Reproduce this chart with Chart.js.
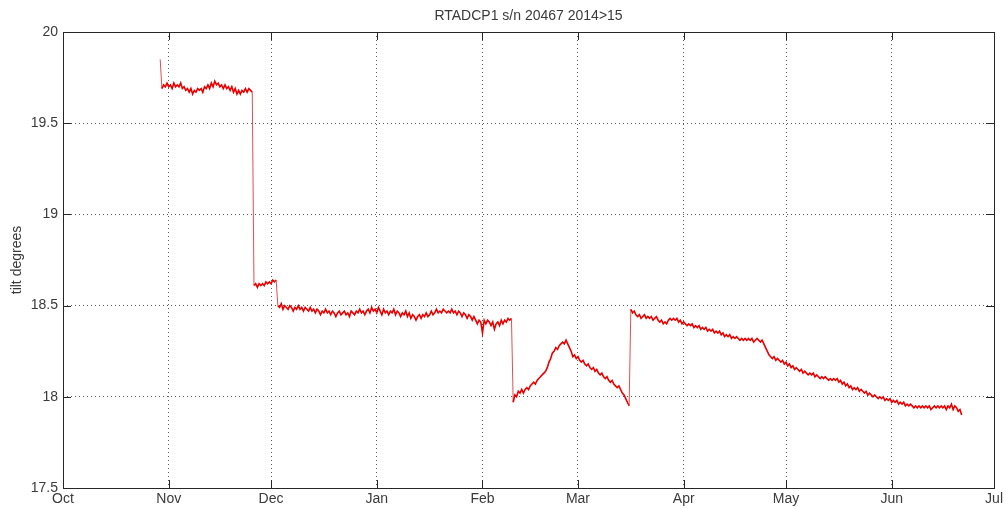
<!DOCTYPE html>
<html>
<head>
<meta charset="utf-8">
<script src="https://cdn.jsdelivr.net/npm/chart.js@4.4.1/dist/chart.umd.min.js"></script>
<style>
  html, body { margin: 0; padding: 0; background: #ffffff; }
  canvas { display: block; }
</style>
</head>
<body>
<canvas id="c" width="1006" height="509"></canvas>
<script>
// ---- Data ----
const chartTitle = 'RTADCP1 s/n 20467 2014>15';
const yAxisTitle = 'tilt degrees';
const monthLabels = ['Oct', 'Nov', 'Dec', 'Jan', 'Feb', 'Mar', 'Apr', 'May', 'Jun', 'Jul'];
const monthStartDays = [0, 31, 61, 92, 123, 151, 182, 212, 243, 273]; // days since 1 Oct 2014
const yTickValues = [17.5, 18, 18.5, 19, 19.5, 20];

// tilt samples every half day starting 28.5 days after 1 Oct 2014
const sampleStartDay = 28.5;
const sampleStepDays = 0.5;
const tilt = [
  // late Oct - late Nov
  19.85, 19.69, 19.71, 19.70, 19.72, 19.70, 19.71, 19.69, 19.72, 19.70,
  19.71, 19.70, 19.72, 19.69, 19.70, 19.68, 19.69, 19.67, 19.69, 19.66,
  19.68, 19.67, 19.69, 19.68, 19.69, 19.67, 19.70, 19.69, 19.71, 19.69,
  19.72, 19.70, 19.73, 19.71, 19.72, 19.70, 19.71, 19.69, 19.71, 19.69,
  19.70, 19.68, 19.70, 19.67, 19.69, 19.66, 19.68, 19.66, 19.68, 19.67,
  19.69, 19.67, 19.69, 19.68, 19.67,
  // late Nov - early Dec
  18.61, 18.62, 18.60, 18.62, 18.61, 18.62, 18.61, 18.63, 18.62, 18.63,
  18.62, 18.64, 18.63, 18.64,
  // Dec - Feb
  18.50, 18.49, 18.51, 18.48, 18.50, 18.49, 18.48, 18.50, 18.49, 18.47,
  18.49, 18.48, 18.50, 18.48, 18.49, 18.47, 18.49, 18.48, 18.47, 18.49,
  18.47, 18.48, 18.46, 18.48, 18.47, 18.45, 18.47, 18.46, 18.48, 18.46,
  18.47, 18.45, 18.47, 18.46, 18.44, 18.46, 18.47, 18.45, 18.46, 18.47,
  18.45, 18.46, 18.44, 18.47, 18.46, 18.45, 18.47, 18.46, 18.48, 18.46,
  18.47, 18.45, 18.47, 18.48, 18.46, 18.49, 18.47, 18.48, 18.46, 18.49,
  18.47, 18.45, 18.48, 18.46, 18.47, 18.45, 18.47, 18.46, 18.48, 18.45,
  18.47, 18.46, 18.44, 18.46, 18.45, 18.47, 18.44, 18.46, 18.43, 18.45,
  18.44, 18.42, 18.44, 18.45, 18.43, 18.45, 18.44, 18.46, 18.44, 18.45,
  18.47, 18.45, 18.46, 18.48, 18.46, 18.47, 18.46, 18.48, 18.47, 18.46,
  18.47, 18.46, 18.48, 18.46, 18.47, 18.45, 18.47, 18.46, 18.44, 18.46,
  18.45, 18.43, 18.45, 18.44, 18.42, 18.44, 18.42, 18.40, 18.42, 18.41,
  18.35, 18.42, 18.40, 18.42, 18.41, 18.39, 18.41, 18.37, 18.40, 18.41,
  18.39, 18.42, 18.40, 18.42, 18.41, 18.43, 18.42, 18.43,
  // Feb - mid Mar
  17.97, 18.01, 18.00, 18.03, 18.02, 18.04, 18.02, 18.04, 18.05, 18.04,
  18.06, 18.07, 18.08, 18.07, 18.09, 18.10, 18.11, 18.12, 18.13, 18.14,
  18.16, 18.19, 18.21, 18.24, 18.25, 18.27, 18.26, 18.28, 18.29, 18.30,
  18.29, 18.31, 18.29, 18.27, 18.25, 18.22, 18.23, 18.21, 18.22, 18.20,
  18.19, 18.20, 18.18, 18.17, 18.18, 18.16, 18.15, 18.16, 18.14, 18.15,
  18.13, 18.12, 18.13, 18.11, 18.10, 18.11, 18.09, 18.08, 18.09, 18.07,
  18.06, 18.05, 18.06, 18.04, 18.02, 18.01, 17.99, 17.97, 17.95,
  // mid Mar - late Jun
  18.48, 18.46, 18.47, 18.45, 18.44, 18.45, 18.43, 18.44, 18.45, 18.43,
  18.44, 18.43, 18.44, 18.42, 18.43, 18.44, 18.42, 18.41, 18.42, 18.40,
  18.41, 18.40, 18.42, 18.43, 18.42, 18.43, 18.42, 18.43, 18.41, 18.42,
  18.40, 18.41, 18.40, 18.39, 18.40, 18.39, 18.40, 18.38, 18.39, 18.38,
  18.39, 18.37, 18.38, 18.37, 18.38, 18.36, 18.37, 18.36, 18.37, 18.35,
  18.36, 18.35, 18.36, 18.34, 18.35, 18.33, 18.34, 18.33, 18.34, 18.32,
  18.33, 18.32, 18.33, 18.32, 18.31, 18.32, 18.31, 18.32, 18.31, 18.32,
  18.31, 18.32, 18.30, 18.31, 18.32, 18.31, 18.30, 18.31, 18.29, 18.27,
  18.25, 18.23, 18.22, 18.21, 18.22, 18.20, 18.21, 18.20, 18.19, 18.20,
  18.18, 18.19, 18.17, 18.18, 18.16, 18.17, 18.15, 18.16, 18.15, 18.14,
  18.15, 18.13, 18.14, 18.13, 18.12, 18.13, 18.12, 18.13, 18.11, 18.12,
  18.11, 18.10, 18.11, 18.10, 18.11, 18.10, 18.09, 18.10, 18.09, 18.10,
  18.09, 18.10, 18.08, 18.09, 18.07, 18.08, 18.06, 18.07, 18.05, 18.06,
  18.04, 18.05, 18.04, 18.05, 18.03, 18.04, 18.03, 18.02, 18.03, 18.01,
  18.02, 18.01, 18.00, 18.01, 18.00, 17.99, 18.00, 17.99, 18.00, 17.98,
  17.99, 17.98, 17.99, 17.97, 17.98, 17.97, 17.98, 17.96, 17.97, 17.96,
  17.97, 17.95, 17.96, 17.95, 17.96, 17.95, 17.94, 17.95, 17.94, 17.95,
  17.94, 17.95, 17.94, 17.95, 17.94, 17.95, 17.93, 17.94, 17.95, 17.94,
  17.95, 17.94, 17.95, 17.94, 17.95, 17.93, 17.95, 17.94, 17.96, 17.93,
  17.95, 17.94, 17.92, 17.93, 17.90
];

// ---- Build chart ----
const points = tilt.map((v, i) => ({ x: sampleStartDay + i * sampleStepDays, y: v }));
const FONT = "'Liberation Sans', Arial, Helvetica, sans-serif";
const TEXT_COLOR = '#3a3a3a';
const AXIS_COLOR = '#262626';
const GRID_COLOR = '#5a5a5a';
const TICK_LEN = 8;
const isJump = ctx => Math.abs(ctx.p1.parsed.y - ctx.p0.parsed.y) > 0.12;

const matlabBox = {
  id: 'matlabBox',
  afterDraw(chart) {
    const { ctx, chartArea: a, scales } = chart;
    ctx.save();
    ctx.strokeStyle = AXIS_COLOR;
    ctx.lineWidth = 1;
    ctx.setLineDash([]);
    ctx.beginPath();
    scales.x.ticks.forEach(t => {
      const px = Math.round(scales.x.getPixelForValue(t.value)) + 0.5;
      ctx.moveTo(px, a.bottom); ctx.lineTo(px, a.bottom - TICK_LEN);
      ctx.moveTo(px, a.top); ctx.lineTo(px, a.top + TICK_LEN);
    });
    scales.y.ticks.forEach(t => {
      const py = Math.round(scales.y.getPixelForValue(t.value)) + 0.5;
      ctx.moveTo(a.left, py); ctx.lineTo(a.left + TICK_LEN, py);
      ctx.moveTo(a.right, py); ctx.lineTo(a.right - TICK_LEN, py);
    });
    ctx.stroke();
    ctx.strokeRect(Math.round(a.left) + 0.5, Math.round(a.top) + 0.5,
                   Math.round(a.right - a.left), Math.round(a.bottom - a.top));
    ctx.restore();
  }
};

new Chart(document.getElementById('c'), {
  type: 'line',
  data: {
    datasets: [{
      data: points,
      borderColor: 'rgb(232,0,0)',
      borderWidth: 1.6,
      pointRadius: 0,
      tension: 0,
      fill: false,
      segment: {
        borderColor: ctx => isJump(ctx) ? 'rgb(222,80,80)' : undefined,
        borderWidth: ctx => isJump(ctx) ? 1 : undefined
      }
    }]
  },
  options: {
    responsive: false,
    animation: false,
    devicePixelRatio: 1,
    layout: { padding: { left: 0, right: 10, top: 0, bottom: 0 } },
    plugins: {
      legend: { display: false },
      tooltip: { enabled: false },
      title: {
        display: true,
        text: chartTitle,
        fullSize: false,
        color: TEXT_COLOR,
        font: { family: FONT, size: 14, weight: 'normal', lineHeight: 1.2 },
        padding: { top: 8, bottom: 7.2 }
      }
    },
    scales: {
      x: {
        type: 'linear',
        min: monthStartDays[0],
        max: monthStartDays[monthStartDays.length - 1],
        afterBuildTicks(scale) {
          scale.ticks = monthStartDays.map(v => ({ value: v }));
        },
        afterFit(scale) { scale.height = 21; },
        ticks: {
          autoSkip: false,
          maxRotation: 0,
          padding: 3,
          color: TEXT_COLOR,
          font: { family: FONT, size: 14 },
          callback(value) {
            const i = monthStartDays.indexOf(value);
            return i >= 0 ? monthLabels[i] : '';
          }
        },
        grid: { color: GRID_COLOR, lineWidth: 1, drawTicks: false },
        border: { display: false, dash: [1, 3] }
      },
      y: {
        type: 'linear',
        min: yTickValues[0],
        max: yTickValues[yTickValues.length - 1],
        afterBuildTicks(scale) {
          scale.ticks = yTickValues.map(v => ({ value: v }));
        },
        afterFit(scale) { scale.width = 63; },
        ticks: {
          padding: 5,
          color: TEXT_COLOR,
          font: { family: FONT, size: 14 },
          callback(value) { return String(value); }
        },
        grid: { color: GRID_COLOR, lineWidth: 1, drawTicks: false },
        border: { display: false, dash: [1, 3] },
        title: {
          display: true,
          text: yAxisTitle,
          color: TEXT_COLOR,
          font: { family: FONT, size: 14, lineHeight: 1.2 },
          padding: { top: 9, bottom: 0 }
        }
      }
    }
  },
  plugins: [matlabBox]
});
</script>
</body>
</html>
